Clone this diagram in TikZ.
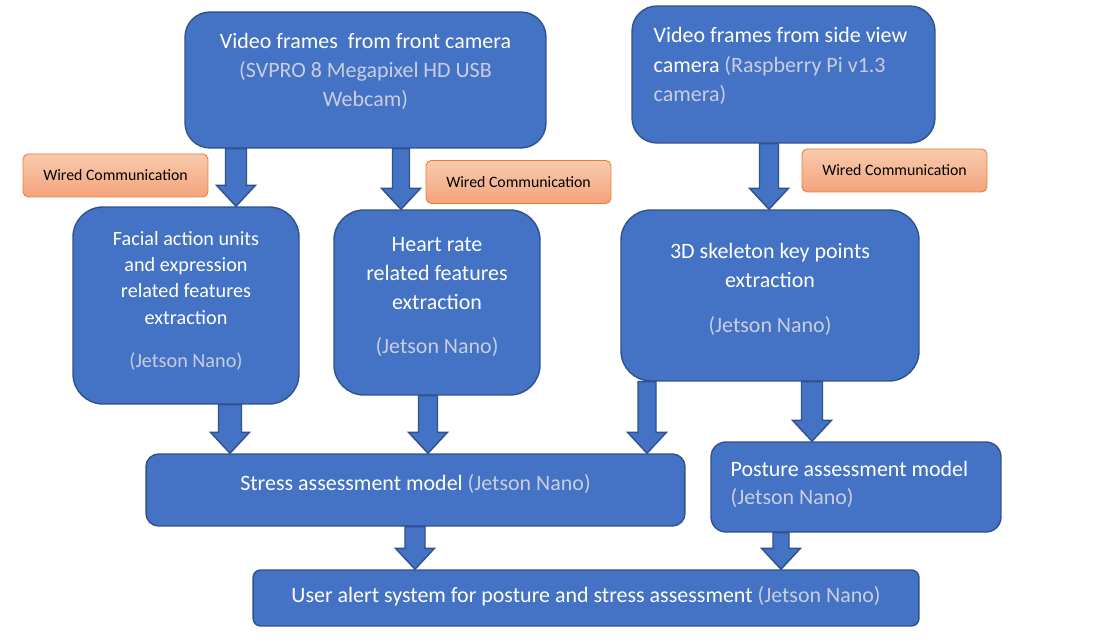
\documentclass[tikz,border=0pt]{standalone}
\usepackage{fontspec}
\setmainfont{Carlito}
\usetikzlibrary{positioning,calc}

\definecolor{boxblue}{HTML}{4472C4}
\definecolor{boxline}{HTML}{2F528F}
\definecolor{softtext}{RGB}{200,206,224}
\definecolor{orTop}{HTML}{F9CBAE}
\definecolor{orBot}{HTML}{F3A37B}
\definecolor{orline}{HTML}{ED7D31}

\newcommand\soft[1]{\textcolor{softtext}{#1}}
% vertical block arrow: [shaft half width]{x}{from}{to}
\newcommand\blockarrow[4][0.2cm]{%
  \filldraw[barr] let \p0=(#2,0), \p1=(#3), \p2=(#4) in
    (\x0-#1,\y1) -- (\x0+#1,\y1) -- (\x0+#1,\y2+0.42cm) -- (\x0+0.39cm,\y2+0.42cm)
    -- (\x0,\y2) -- (\x0-0.39cm,\y2+0.42cm) -- (\x0-#1,\y2+0.42cm) -- cycle;}

\tikzset{
  blk/.style={draw=boxline, fill=boxblue, line width=0.8pt, inner sep=0pt},
  barr/.style={draw=boxline, fill=boxblue, line width=0.8pt},
  txt/.style={text=white, align=center, inner sep=0pt,
              font=\fontsize{12.5}{16.4}\selectfont},
  wire/.style={draw=orline, top color=orTop, bottom color=orBot, line width=0.5pt,
               rounded corners=3pt, minimum width=3.7cm, minimum height=0.86cm,
               inner sep=0pt, font=\fontsize{9}{11}\selectfont},
}

\begin{document}
\begin{tikzpicture}[x=0.02cm, y=-0.02cm]
   \fill[white] (0,0) rectangle (1093,644);
   \useasboundingbox (0,0) rectangle (1093,644);

   % boxes
   \node[blk, rounded corners=0.5cm, minimum width=7.22cm, minimum height=2.72cm] (cam_f) at (365.5,80) {};
   \node[blk, rounded corners=0.5cm, minimum width=6.06cm, minimum height=2.74cm] (cam_s) at (783.5,74.5) {};
   \node[blk, rounded corners=0.6cm, minimum width=4.52cm, minimum height=3.94cm] (fau) at (186,305.5) {};
   \node[blk, rounded corners=0.6cm, minimum width=4.12cm, minimum height=3.7cm] (hr) at (437,302.5) {};
   \node[blk, rounded corners=0.6cm, minimum width=5.96cm, minimum height=3.42cm] (skel) at (770,295.5) {};
   \node[blk, rounded corners=0.25cm, minimum width=10.78cm, minimum height=1.44cm] (stress) at (415.5,490) {};
   \node[blk, rounded corners=0.3cm, minimum width=5.8cm, minimum height=1.8cm] (posture) at (856,487) {};
   \node[blk, rounded corners=0.15cm, minimum width=13.32cm, minimum height=1.12cm] (alert) at (586,598) {};

   % texts
   \node[txt] (cam_f_t) at ([yshift=0.17cm]cam_f.center)
        {Video frames~~from front camera\\ \soft{(SVPRO 8 Megapixel HD USB}\\ \soft{Webcam)}};
   \node[txt, align=left, anchor=west, font=\fontsize{12.5}{16.9}\selectfont] (cam_s_t)
        at ([xshift=0.44cm, yshift=0.17cm]cam_s.west)
        {Video frames from side view\\ camera \soft{(Raspberry Pi v1.3}\\ \soft{camera)}};
   \node[txt, font=\fontsize{11.5}{14.9}\selectfont] (fau_t) at ([yshift=0.09cm]fau.center)
        {Facial action units\\ and expression\\ related features\\ extraction\\[10pt] \soft{(Jetson Nano)}};
   \node[txt] (hr_t) at ([yshift=0.11cm]hr.center)
        {Heart rate\\ related features\\ extraction\\[8.5pt] \soft{(Jetson Nano)}};
   \node[txt] (skel_t) at ([yshift=0.12cm]skel.center)
        {3D skeleton key points\\ extraction\\[9pt] \soft{(Jetson Nano)}};
   \node[txt] (stress_t) at ([yshift=0.13cm]stress.center)
        {Stress assessment model \soft{(Jetson Nano)}};
   \node[txt, align=left, anchor=west, font=\fontsize{12.5}{15.9}\selectfont] (posture_t)
        at ([xshift=0.4cm, yshift=0.06cm]posture.west)
        {Posture assessment model\\ \soft{(Jetson Nano)}};
   \node[txt] (alert_t) at ([yshift=0.04cm]alert.center)
        {User alert system for posture and stress assessment \soft{(Jetson Nano)}};

   % wired links
   \node[wire] (w_1) at (115.5,175.5) {Wired Communication};
   \node[wire] (w_2) at (518.5,182) {Wired Communication};
   \node[wire] (w_3) at (894.5,170.5) {Wired Communication};

   % arrows
   \blockarrow[0.21cm]{236}{cam_f.south}{fau.north}
   \blockarrow[0.17cm]{401}{cam_f.south}{hr.north}
   \blockarrow[0.19cm]{769}{cam_s.south}{skel.north}
   \blockarrow[0.23cm]{230}{fau.south}{stress.north}
   \blockarrow[0.19cm]{428}{hr.south}{stress.north}
   \blockarrow[0.18cm]{647}{skel.south}{stress.north}
   \blockarrow[0.21cm]{812}{skel.south}{posture.north}
   \blockarrow[0.2cm]{415}{stress.south}{alert.north}
   \blockarrow[0.16cm]{781}{posture.south}{alert.north}
\end{tikzpicture}
\end{document}
